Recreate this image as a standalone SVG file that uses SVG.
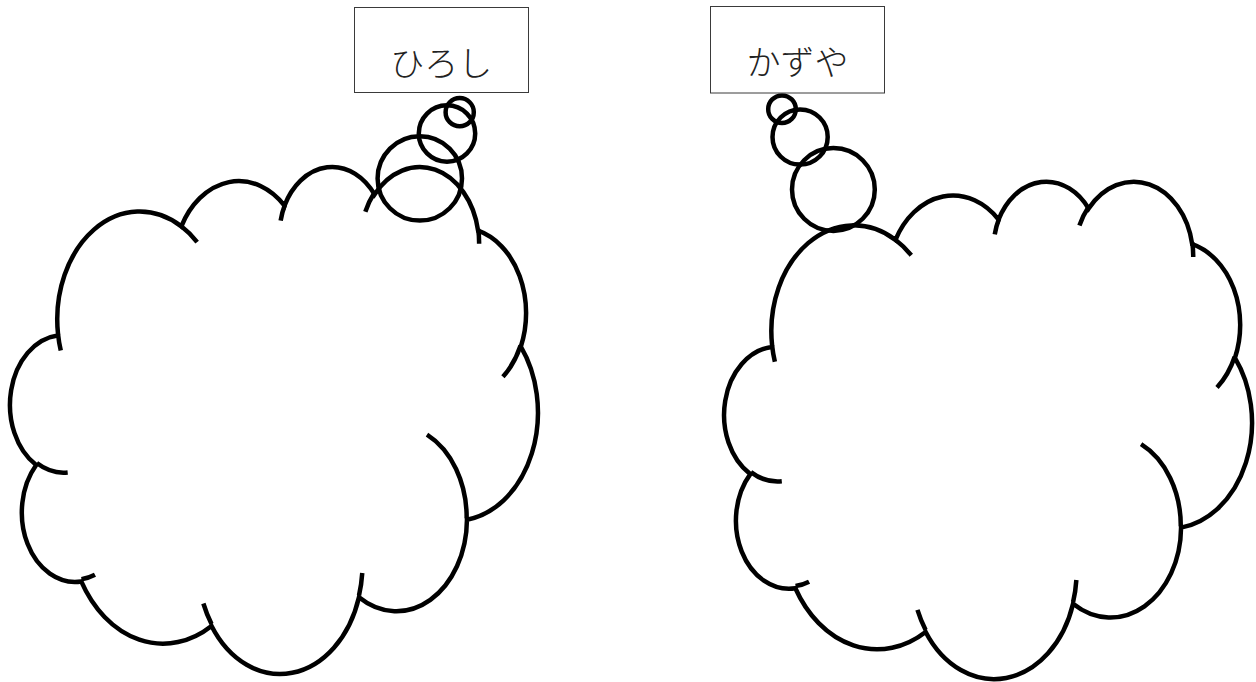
<svg xmlns="http://www.w3.org/2000/svg" width="1256" height="682" viewBox="0 0 1256 682">
  <style>
    .outline { fill: none; stroke: #000; stroke-width: 4.5; vector-effect: non-scaling-stroke; stroke-linejoin: miter; stroke-linecap: butt; }
    .bubble { fill: none; stroke: #000; stroke-width: 4.5; }
    .label-box { fill: #fff; stroke: #3a3a3a; stroke-width: 1; }
    .label-text { font-family: "Noto Sans CJK JP", "Noto Sans CJK SC", sans-serif; font-size: 34px; font-weight: 300; fill: #222; text-anchor: middle; }
  </style>
  <defs>
    <!-- thought cloud drawn in a 43200 x 43200 unit box -->
    <g id="cloud">
      <path class="outline" d="M 3900 14370
        A 6753 9190 0 0 1 14006 5203
        A 5333 7267 0 0 1 22456 3434
        A 4365 5945 0 0 1 29833 2483
        A 4857 6595 0 0 1 38318 5578
        A 5333 7273 0 0 1 41818 15461
        A 6775 9220 0 0 1 37404 30205
        A 5785 7867 0 0 1 28556 36815
        A 6752 9215 0 0 1 16480 39266
        A 7720 10543 0 0 1 5805 35472
        A 4360 5918 0 0 1 2113 25550
        A 4345 5945 0 0 1 3864 14506 Z"/>
      <!-- inner arc stubs where the lobes overlap -->
      <path class="outline" d="M 4693 26177 A 4345 5945 0 0 1 2160 25380
        M 6928 34899 A 4360 5918 0 0 1 5820 35280
        M 16478 39090 A 6752 9215 0 0 1 15810 37350
        M 28827 34751 A 6752 9215 0 0 1 28560 36660
        M 34129 22954 A 5785 7867 0 0 1 37380 30090
        M 41798 15354 A 5333 7273 0 0 1 40350 18030
        M 38324 5426 A 4857 6595 0 0 1 38400 6690
        M 29078 3952 A 4857 6595 0 0 1 29820 2339
        M 22141 4720 A 4365 5945 0 0 1 22500 3330
        M 14000 5192 A 6753 9190 0 0 1 15299 6539
        M 4127 15789 A 6753 9190 0 0 1 3900 14370"/>
    </g>
  </defs>

  <rect width="1256" height="682" fill="#fff"/>

  <g id="hiroshi-cloud">
    <use href="#cloud" transform="translate(10.4 165.3) scale(0.012206 0.011732)"/>
  </g>

  <g id="kazuya-cloud">
    <use href="#cloud" transform="translate(724.5 180) scale(0.012206 0.01151)"/>
  </g>

  <!-- bubble trails from each name up to its cloud -->
  <g id="connectors">
    <g id="hiroshi-trail">
      <circle class="bubble" cx="459.7" cy="112.2" r="14.1"/>
      <circle class="bubble" cx="447" cy="133.5" r="28.2"/>
      <circle class="bubble" cx="419.8" cy="178.4" r="42.2"/>
    </g>
    <g id="kazuya-trail">
      <circle class="bubble" cx="782" cy="109.2" r="13.8"/>
      <circle class="bubble" cx="800.1" cy="137" r="27.6"/>
      <circle class="bubble" cx="833.4" cy="189.5" r="41.4"/>
    </g>
  </g>

  <g id="hiroshi-label">
    <rect class="label-box" x="354.5" y="7.5" width="174" height="85"/>
    <text class="label-text" x="441.2" y="76">ひろし</text>
  </g>

  <g id="kazuya-label">
    <rect class="label-box" x="710.5" y="6.5" width="174" height="86.5"/>
    <text class="label-text" x="797.5" y="75">かずや</text>
  </g>
</svg>
